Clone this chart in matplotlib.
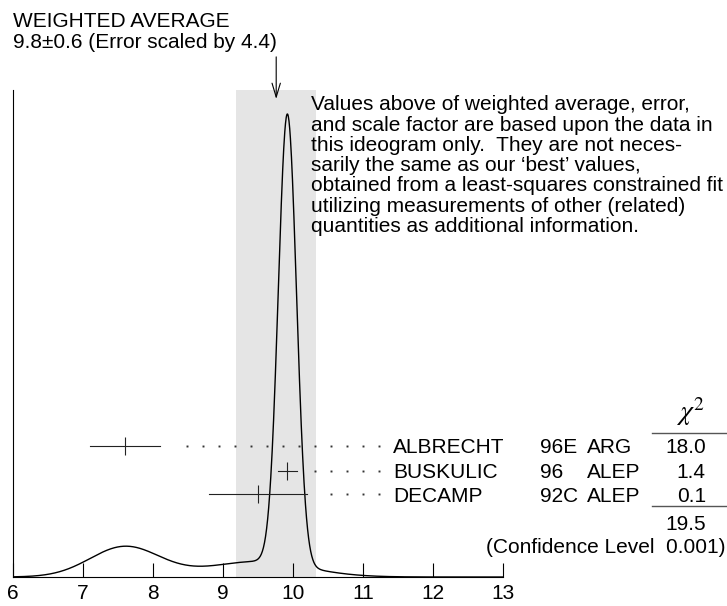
import numpy as np
import matplotlib
matplotlib.use("Agg")
import matplotlib.pyplot as plt

plt.rcParams['font.family'] = ['Liberation Sans', 'DejaVu Sans']
plt.rcParams['mathtext.fontset'] = 'stix'

names = ['ALBRECHT', 'BUSKULIC', 'DECAMP']
years = ['96E', '96', '92C']
techs = ['ARG', 'ALEP', 'ALEP']
values = [7.6, 9.92, 9.5]
errors = [0.5, 0.13, 0.7]
chi2 = [18.0, 1.4, 0.1]
chi2_sum = 19.5
conf_level = 0.001
avg, avg_err = 9.76, 0.57
row_y = [0.269, 0.218, 0.170]   # vertical position of each row (axes fraction)
xticks = [6, 7, 8, 9, 10, 11, 12, 13]

W, H = 727, 606
fig = plt.figure(figsize=(W / 100, H / 100), dpi=100)
ax = fig.add_axes([13 / W, 29 / H, 490 / W, 487 / H])
trans = ax.get_xaxis_transform()

# ideogram: each measurement a gaussian with area ~ 1/sigma
x = np.linspace(6, 13, 1400)
curve = np.zeros_like(x)
for mu, sig in zip(values, errors):
    curve += (1 / sig) * np.exp(-0.5 * ((x - mu) / sig) ** 2) / (sig * np.sqrt(2 * np.pi))

ax.axvspan(avg - avg_err, avg + avg_err, color='#e5e5e5', lw=0, zorder=0)
ax.plot(x, curve, color='black', lw=1.0, zorder=3)

# measurement points with dotted leaders
step = 0.2286
for mu, sig, yy in zip(values, errors, row_y):
    ax.plot([mu - sig, mu + sig], [yy, yy], color='#222222', lw=0.8, transform=trans, zorder=4)
    ax.plot([mu], [yy], marker='|', ms=12.5, mew=0.8, color='#222222', transform=trans, zorder=4)
    k0 = int(np.ceil((mu + sig + 0.22 - 8.49) / step))
    dots = 8.49 + step * np.arange(k0, 13)
    ax.plot(dots, [yy] * len(dots), ls='none', marker='s', ms=1.4, mew=0,
            color='#333333', transform=trans, zorder=4, clip_on=False)

ax.set_xlim(6, 13)
ax.set_ylim(0, curve.max() * 487 / 463)
ax.set_xticks(xticks)
ax.set_yticks([])
ax.tick_params(axis='x', direction='in', length=10, width=0.8, pad=5, labelsize=15)
for s in ['top', 'right']:
    ax.spines[s].set_visible(False)
for s in ['left', 'bottom']:
    ax.spines[s].set_linewidth(0.8)

# arrow marking the weighted average
ax.annotate('', xy=(avg, 0.9815), xytext=(avg, 1.068), xycoords=trans,
            arrowprops=dict(arrowstyle='->,head_length=1.0,head_width=0.3',
                            lw=0.8, color='black', shrinkA=0, shrinkB=0))

fig.text(13 / W, 1 - 27 / H, 'WEIGHTED AVERAGE', fontsize=15, va='baseline')
fig.text(13 / W, 1 - 48 / H, '9.8\u00b10.6 (Error scaled by 4.4)', fontsize=15, va='baseline')

note = ("Values above of weighted average, error,\n"
        "and scale factor are based upon the data in\n"
        "this ideogram only.  They are not neces-\n"
        "sarily the same as our \u2018best\u2019 values,\n"
        "obtained from a least-squares constrained fit\n"
        "utilizing measurements of other (related)\n"
        "quantities as additional information.")
fig.text(311 / W, 1 - 95.5 / H, note, fontsize=15, va='top', linespacing=1.08)

# chi-square table
ta = ax.transAxes
for n, yr, tc, c, yy in zip(names, years, techs, chi2, row_y):
    yb = yy - 0.0154
    ax.text(0.7755, yb, n, transform=ta, fontsize=15, va='baseline')
    ax.text(1.0755, yb, yr, transform=ta, fontsize=15, va='baseline')
    ax.text(1.171, yb, tc, transform=ta, fontsize=15, va='baseline')
    ax.text(1.414, yb, f'{c:.1f}', transform=ta, fontsize=15, va='baseline', ha='right')
ax.text(1.382, 0.3224, r'$\chi^2$', transform=ta, fontsize=20, va='baseline', ha='center')
ax.plot([1.304, 1.48], [0.2963, 0.2963], color='#555555', lw=1.0, transform=ta, clip_on=False)
ax.plot([1.304, 1.48], [0.1458, 0.1458], color='#555555', lw=1.0, transform=ta, clip_on=False)
ax.text(1.414, 0.0965, f'{chi2_sum:.1f}', transform=ta, fontsize=15, va='baseline', ha='right')
ax.text(1.455, 0.0487, f'(Confidence Level  {conf_level:.3f})', transform=ta, fontsize=15,
        va='baseline', ha='right')

fig.savefig('out.png', dpi=100)
